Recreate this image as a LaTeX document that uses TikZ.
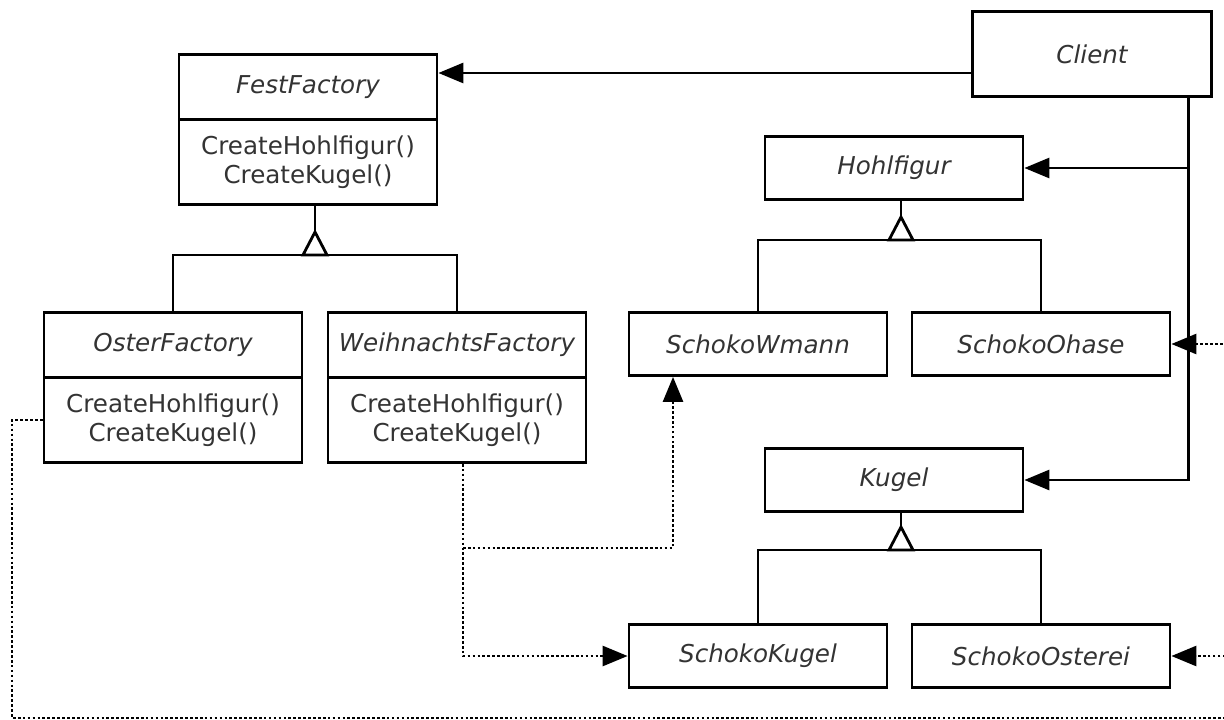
\documentclass[tikz,border=0pt]{standalone}
\usepackage{fontspec}
\setmainfont{DejaVu Sans}
\usepackage{xcolor}
\usepackage{tikz}
\usetikzlibrary{arrows.meta,positioning}
\definecolor{ink}{HTML}{000000}
\definecolor{txt}{HTML}{333333}
\tikzset{
  cls/.style={draw=ink, line width=1.6pt, minimum width=5.16cm, minimum height=1.26cm, inner sep=1pt, text=txt, font=\fontsize{14}{16.5}\selectfont\itshape},
  head/.style={cls, minimum height=1.3cm},
  body/.style={cls, minimum height=1.7cm, align=center, font=\fontsize{14}{16.5}\selectfont},
  link/.style={draw=ink, line width=1.6pt, line join=miter},
  assoc/.style={link, -{Triangle[length=0.5cm,width=0.4cm]}},
  dep/.style={draw=ink, line width=1.5pt, dash pattern=on 1.5pt off 1.3pt, -{Triangle[length=0.5cm,width=0.4cm]}},
  tri/.style={link, fill=white},
}

\begin{document}
\begin{tikzpicture}[x=0.02cm, y=-0.02cm]
  \useasboundingbox (0,0) rectangle (1224,720);
  \clip (0,0) rectangle (1224,720);

  % factories
  \node[cls, minimum width=4.78cm, minimum height=1.7cm] (client) at (1092,54) {Client};
  \node[head] (festH) at (308,87) {FestFactory};
  \node[body, below=-1.6pt of festH] (festB) {CreateHohlfigur()\\CreateKugel()};
  \node[head] (osterH) at (173,345) {OsterFactory};
  \node[body, below=-1.6pt of osterH] (osterB) {CreateHohlfigur()\\CreateKugel()};
  \node[head] (weihH) at (457,345) {WeihnachtsFactory};
  \node[body, below=-1.6pt of weihH] (weihB) {CreateHohlfigur()\\CreateKugel()};

  % products
  \node[cls] (hohl) at (894,168) {Hohlfigur};
  \node[cls] (swmann) at (758,344) {SchokoWmann};
  \node[cls] (sohase) at (1041,344) {SchokoOhase};
  \node[cls] (kugel) at (894,480) {Kugel};
  \node[cls] (skugel) at (758,656) {SchokoKugel};
  \node[cls] (sosterei) at (1041,656) {SchokoOsterei};

  % inheritance
  \coordinate (festbar) at (315,255);
  \coordinate (festtip) at (315,232);
  \draw[link] (osterH.north) |- (weihH.north |- festbar) -- (weihH.north);
  \draw[link] (festtip) -- (festtip |- festB.south);
  \draw[tri] (festtip) -- ++(12,23) -- ++(-24,0) -- cycle;

  \coordinate (hohlbar) at (901,240);
  \coordinate (hohltip) at (901,217);
  \draw[link] (swmann.north) |- (sohase.north |- hohlbar) -- (sohase.north);
  \draw[link] (hohltip) -- (hohltip |- hohl.south);
  \draw[tri] (hohltip) -- ++(12,23) -- ++(-24,0) -- cycle;

  \coordinate (kugelbar) at (901,550);
  \coordinate (kugeltip) at (901,527);
  \draw[link] (skugel.north) |- (sosterei.north |- kugelbar) -- (sosterei.north);
  \draw[link] (kugeltip) -- (kugeltip |- kugel.south);
  \draw[tri] (kugeltip) -- ++(12,23) -- ++(-24,0) -- cycle;

  % client uses
  \draw[assoc] ([yshift=-0.38cm]client.west) -- ([yshift=-0.38cm]client.west -| festH.east);
  \coordinate (bus) at ([xshift=-0.48cm]client.south east);
  \draw[assoc] (bus) |- (kugel.east);
  \draw[assoc] (bus |- hohl.east) -- (hohl.east);

  % creates
  \coordinate (wdep) at ([xshift=0.12cm]weihB.south);
  \draw[dep] (wdep) |- (skugel.west);
  \draw[dep] (wdep |- 0,548) -| ([xshift=-1.7cm]swmann.south);

  \coordinate (lowl) at (12,718);
  \coordinate (lowr) at (1240,718);
  \draw[dep] (osterB.west) -| (lowl) -- (lowr) |- (sohase.east);
  \draw[dep] (lowr |- sosterei.east) -- (sosterei.east);
\end{tikzpicture}
\end{document}
